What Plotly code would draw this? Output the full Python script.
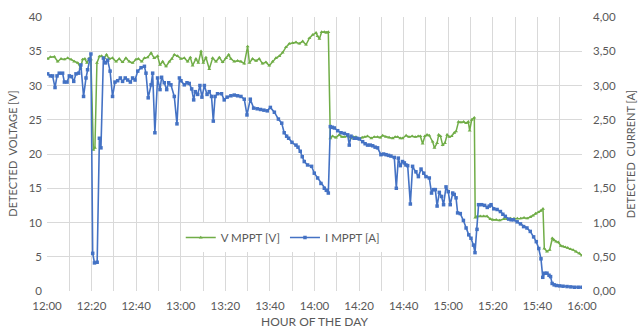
import plotly.graph_objects as go

# Minutes after 12:00 for each MPPT voltage sample, and the voltage in volts
v_time = [0.3, 1.5, 3.3, 4.8, 6.3, 7.8, 9.3, 10.8, 12.2, 13.8, 15.0, 16.0, 17.0, 17.9, 19.0, 19.7,
          20.8, 21.5, 22.4, 23.5, 24.5, 25.7, 26.7, 27.9, 29.4, 31.0, 32.4, 33.9, 35.4, 36.9, 38.4,
          39.9, 41.0, 42.5, 43.7, 45.1, 46.7, 48.1, 49.6, 50.7, 51.9, 53.4, 54.9, 56.0, 57.1, 58.6,
          60.1, 61.6, 63.1, 64.3, 65.3, 66.8, 67.9, 69.1, 70.1, 71.3, 72.8, 74.3, 75.8, 77.3, 78.8,
          80.3, 81.5, 82.5, 84.0, 85.5, 87.0, 88.5, 90.0, 90.8, 92.2, 93.8, 95.2, 96.7, 98.2, 99.7,
          101.2, 102.7, 104.2, 105.7, 107.2, 108.7, 110.2, 111.7, 113.2, 114.7, 116.2, 117.7, 119.2,
          120.7, 121.4, 122.2, 123.2, 124.4, 125.3, 126.2, 127.1, 128.1, 129.6, 131.1, 132.3, 133.4,
          134.9, 136.4, 137.5, 138.6, 140.0, 141.4, 142.6, 143.8, 145.5, 146.8, 148.3, 149.5, 150.6,
          152.0, 153.5, 155.1, 156.2, 157.3, 158.5, 159.5, 161.1, 162.4, 163.8, 165.2, 166.5, 167.5,
          168.5, 169.5, 170.5, 171.5, 173.0, 173.8, 175.0, 175.7, 176.5, 177.5, 178.5, 179.5, 180.5,
          181.5, 182.7, 183.5, 184.6, 185.7, 186.9, 188.0, 189.0, 189.6, 190.5, 191.7, 192.1, 193.0,
          194.4, 195.9, 197.4, 198.9, 200.0, 201.5, 203.0, 204.9, 206.5, 208.0, 209.5, 211.0, 212.5,
          214.0, 215.4, 216.8, 218.0, 219.2, 220.4, 221.5, 222.5, 223.1, 224.3, 225.5, 226.7, 227.5,
          228.4, 229.4, 230.5, 231.5, 232.5, 233.6, 234.8, 236.0, 237.3, 238.8, 240.0]
v_mppt = [33.9, 34.15, 34.2, 33.5, 33.9, 33.8, 34.0, 33.8, 33.5, 33.3, 32.6, 33.8, 33.9, 33.3, 34.0, 33.8,
          20.6, 20.9, 33.3, 34.25, 34.3, 34.0, 34.5, 33.9, 34.0, 33.5, 33.9, 33.4, 34.0, 33.5, 33.3,
          33.8, 33.9, 33.5, 34.0, 34.1, 34.75, 34.0, 34.3, 33.0, 33.5, 32.8, 33.5, 33.9, 34.5, 34.3,
          33.9, 34.0, 33.5, 34.1, 32.9, 33.9, 33.3, 35.0, 33.3, 34.1, 32.4, 34.0, 33.5, 34.1, 33.4,
          34.0, 34.5, 33.9, 33.5, 33.6, 33.5, 33.2, 35.7, 33.3, 33.9, 33.6, 33.9, 33.2, 33.4, 32.9,
          33.5, 34.0, 34.3, 34.8, 35.6, 36.1, 36.2, 36.3, 36.1, 36.45, 35.95, 36.9, 37.4,
          37.7, 37.2, 36.8, 37.8, 37.8, 37.7, 37.8, 22.3, 22.6, 22.4, 22.8, 22.5, 22.5,
          22.6, 22.3, 22.5, 22.5, 22.2, 22.4, 22.5, 22.6, 22.3, 22.5, 22.5, 22.4, 22.7,
          22.5, 22.4, 22.3, 22.5, 22.5, 22.3, 22.3, 22.7, 22.5, 22.6, 22.5, 22.6, 22.6,
          21.5, 22.6, 22.8, 22.7, 21.8, 20.9, 21.6, 22.8, 22.6, 21.3, 21.6, 22.8, 22.5,
          22.6, 23.1, 23.3, 24.7, 24.6, 24.7, 24.5, 24.7, 23.4, 25.0, 25.3, 10.7, 10.9,
          10.9, 10.9, 10.9, 10.5, 10.4, 10.4, 10.3, 10.5, 10.5, 10.6, 10.6, 10.6, 10.6,
          10.7, 10.6, 10.8, 11.0, 11.3, 11.5, 11.7, 12.0, 6.2, 5.75, 6.0, 7.7, 7.4,
          7.2, 7.1, 6.6, 6.5, 6.4, 6.3, 6.1, 6.0, 5.75, 5.5, 5.2]

# Minutes after 12:00 for each MPPT current sample, and the current in amperes
i_time = [0.3, 1.5, 2.5, 3.6, 4.5, 5.5, 7.0, 7.8, 9.0, 10.0, 11.0, 12.0, 13.0, 14.2, 15.2, 16.4,
          17.5, 18.2, 19.0, 19.7, 20.5, 21.3, 22.5, 23.5, 24.2, 25.3, 26.2, 27.2, 28.3, 29.4, 30.5,
          31.7, 32.9, 33.9, 35.1, 36.2, 37.4, 38.4, 39.5, 40.7, 42.2, 43.7, 44.4, 45.4, 46.7, 47.4,
          48.4, 49.6, 50.7, 51.4, 52.6, 53.7, 54.6, 55.6, 57.1, 58.3, 59.4, 60.1, 61.6, 62.8, 63.8,
          64.9, 65.8, 66.5, 67.6, 68.6, 69.5, 70.6, 71.8, 72.8, 73.8, 74.6, 75.4, 76.5, 78.3, 79.5,
          80.8, 82.5, 84.0, 85.5, 87.0, 88.5, 89.7, 91.2, 92.7, 94.3, 95.8, 97.3, 98.8, 100.2, 102.0,
          103.8, 105.3, 106.4, 107.5, 108.4, 109.9, 111.7, 112.6, 113.6, 114.5, 115.4, 116.9, 118.7,
          119.9, 121.4, 122.9, 124.4, 125.3, 126.2, 127.1, 128.0, 128.9, 130.4, 131.9, 133.4, 134.9,
          135.6, 136.4, 137.8, 139.0, 140.1, 141.6, 142.7, 143.8, 145.0, 146.1, 147.2, 148.3, 149.8,
          151.0, 152.1, 153.2, 154.3, 155.8, 156.7, 157.6, 158.5, 159.5, 160.3, 161.0, 161.8, 163.0,
          164.0, 165.5, 166.6, 167.8, 169.0, 170.0, 171.5, 172.5, 173.4, 174.2, 175.0, 176.0, 177.0,
          177.9, 179.0, 180.0, 180.9, 182.0, 182.7, 183.5, 184.2, 185.4, 186.8, 188.0, 189.2, 190.2,
          191.3, 192.0, 192.9, 193.6, 195.0, 196.3, 197.5, 198.4, 199.2, 200.4, 201.9, 203.4, 204.5,
          205.6, 207.1, 208.2, 209.3, 210.9, 212.4, 213.8, 215.3, 216.8, 218.3, 219.5, 220.6, 221.6,
          222.4, 223.3, 224.3, 225.2, 225.9, 226.6, 227.5, 228.5, 230.0, 231.5, 233.3, 235.0, 236.6,
          238.3, 240.0]
i_mppt = [3.17, 3.14, 3.14, 2.97, 3.14, 3.18, 3.18, 3.05, 3.05, 3.14, 3.13, 3.06, 3.17, 3.18, 3.30, 2.84,
          3.11, 3.23, 3.38, 3.46, 0.55, 0.41, 0.42, 2.23, 2.09, 3.40, 3.33, 3.37, 3.21, 2.84, 3.05,
          3.07, 3.11, 3.06, 3.11, 3.08, 3.05, 3.11, 3.08, 3.21, 3.26, 3.28, 3.18, 2.82, 3.01, 3.18,
          2.31, 3.11, 2.94, 3.12, 3.04, 2.94, 3.04, 3.01, 2.84, 2.44, 3.11, 3.07, 3.01, 3.04, 3.03,
          2.95, 2.79, 2.91, 2.87, 3.00, 2.83, 3.00, 2.87, 2.91, 2.84, 2.48, 2.84, 2.88, 2.88, 2.79,
          2.83, 2.85, 2.86, 2.85, 2.84, 2.80, 2.57, 2.80, 2.67, 2.66, 2.65, 2.64, 2.63, 2.68, 2.61,
          2.51, 2.45, 2.31, 2.26, 2.23, 2.17, 2.13, 2.10, 2.04, 1.96, 1.89, 1.84, 1.82,
          1.72, 1.65, 1.57, 1.50, 1.47, 1.43, 2.40, 2.39, 2.38, 2.34, 2.31, 2.30, 2.28,
          2.13, 2.26, 2.23, 2.23, 2.22, 2.18, 2.15, 2.13, 2.13, 2.12, 2.10, 2.09, 1.99,
          2.00, 1.99, 1.98, 1.97, 1.95, 1.50, 1.94, 1.83, 1.89, 1.87, 1.84, 1.83, 1.27,
          1.82, 1.74, 1.67, 1.78, 1.72, 1.67, 1.65, 1.43, 1.48, 1.48, 1.24, 1.44, 1.38,
          1.26, 1.52, 1.45, 1.26, 1.43, 1.41, 1.36, 1.14, 1.13, 1.03, 0.92, 0.82, 0.77,
          0.67, 0.56, 0.90, 1.26, 1.26, 1.25, 1.22, 1.24, 1.26, 1.20, 1.19, 1.16, 1.12,
          1.09, 1.05, 1.04, 1.04, 1.01, 0.98, 0.94, 0.92, 0.87, 0.79, 0.72, 0.62, 0.47,
          0.20, 0.26, 0.26, 0.23, 0.21, 0.11, 0.09, 0.08, 0.075, 0.07, 0.065, 0.06, 0.055,
          0.055, 0.055]

# Hour-of-day labels every 20 minutes
tick_minutes = [0, 20, 40, 60, 80, 100, 120, 140, 160, 180, 200, 220, 240]
tick_labels = ["12:00", "12:20", "12:40", "13:00", "13:20", "13:40", "14:00",
               "14:20", "14:40", "15:00", "15:20", "15:40", "16:00"]

GREEN = "#70ad47"
BLUE = "#4472c4"
GRID = "#d9d9d9"
TEXT = "#595959"
FONT = "Lato"

fig = go.Figure()
fig.add_trace(go.Scatter(
    x=v_time, y=v_mppt, name="V MPPT [V]", mode="lines+markers",
    line=dict(color=GREEN, width=1.5),
    marker=dict(symbol="triangle-up", size=3.5, color=GREEN),
    yaxis="y",
))
fig.add_trace(go.Scatter(
    x=i_time, y=i_mppt, name="I MPPT [A]", mode="lines+markers",
    line=dict(color=BLUE, width=1.6),
    marker=dict(symbol="square", size=3.5, color=BLUE),
    yaxis="y2",
))

fig.update_layout(
    width=640, height=329,
    margin=dict(l=47, r=58, t=17, b=38),
    paper_bgcolor="white", plot_bgcolor="white",
    separators=",.",
    font=dict(family=FONT, size=11, color=TEXT),
    showlegend=True,
    legend=dict(
        orientation="h", x=0.25, y=0.195, xanchor="left", yanchor="middle",
        bgcolor="white", font=dict(size=11.5, color=TEXT),
        itemwidth=30, tracegroupgap=0,
    ),
    xaxis=dict(
        range=[0, 240], tickmode="array", tickvals=tick_minutes, ticktext=tick_labels,
        showgrid=True, gridcolor=GRID, gridwidth=1, zeroline=False, showline=False,
        automargin=False,
        ticks="", ticklabelstandoff=6, tickfont=dict(size=11.5, color=TEXT),
        minor=dict(dtick=10, tick0=0, showgrid=True, gridcolor=GRID, gridwidth=1),
    ),
    yaxis=dict(
        range=[0, 40], dtick=5, tick0=0,
        showgrid=True, gridcolor=GRID, gridwidth=1, zeroline=False, showline=False,
        automargin=False,
        ticks="", ticklabelstandoff=4, tickfont=dict(size=11.5, color=TEXT),
    ),
    yaxis2=dict(
        range=[0, 4], dtick=0.5, tick0=0, tickformat=".2f", overlaying="y", side="right",
        showgrid=False, zeroline=False, showline=False, automargin=False,
        ticks="", ticklabelstandoff=10, tickfont=dict(size=11.5, color=TEXT),
    ),
    annotations=[
        dict(text="HOUR OF THE DAY", xref="paper", yref="paper", x=0.5, y=-0.113,
             xanchor="center", yanchor="middle", showarrow=False,
             font=dict(size=12, color=TEXT)),
        dict(text="DETECTED  VOLTAGE [V]", xref="paper", yref="paper", x=-0.066, y=0.5,
             xanchor="center", yanchor="middle", textangle=-90, showarrow=False,
             font=dict(size=11, color=TEXT)),
        dict(text="DETECTED  CURRENT [A]", xref="paper", yref="paper", x=1.09, y=0.5,
             xanchor="center", yanchor="middle", textangle=-90, showarrow=False,
             font=dict(size=11, color=TEXT)),
    ],
)

fig.write_html("out.html")
